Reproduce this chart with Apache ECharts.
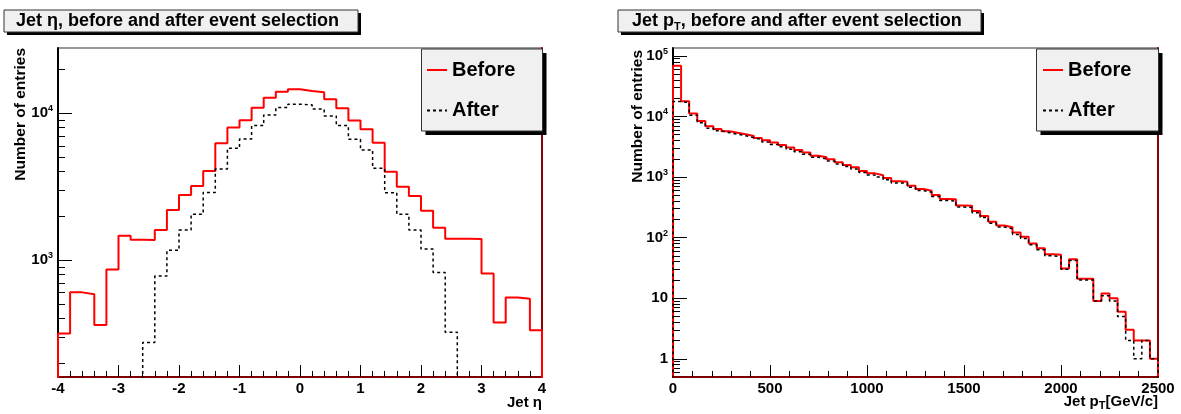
<!DOCTYPE html>
<html><head><meta charset="utf-8">
<script src="https://cdn.jsdelivr.net/npm/echarts@6/dist/echarts.min.js"></script>
<style>html,body{margin:0;padding:0;background:#fff}#c{width:1181px;height:414px}</style>
</head><body><div id="c"></div>
<script>
// ---------------- data ----------------
const etaRange = [-4, 4];
const etaBinWidth = 0.2;
const etaBefore = [316, 603, 586, 362, 863, 1465, 1375, 1370, 1600, 2190,
  2770, 3190, 4040, 6250, 7980, 8960, 10900, 12760, 14020, 14580,
  14190, 13900, 12450, 10810, 8910, 7780, 6300, 4000, 3160, 2730,
  2170, 1660, 1400, 1400, 1390, 811, 376, 557, 545, 333];
const etaAfter = [0, 0, 0, 0, 0, 0, 0, 275, 778, 1165,
  1600, 2050, 2890, 4170, 5770, 6680, 8240, 9730, 10920, 11520,
  11400, 10690, 9590, 8240, 6650, 5620, 4220, 2880, 2050, 1600,
  1189, 824, 323, 0, 0, 0, 0, 0, 0, 0];

const ptRange = [0, 2500];
const ptBinWidth = 2500 / 60;
const ptBefore = [69000, 17800, 11200, 8430, 6900, 6200, 5700, 5380, 5100, 4750,
  4400, 4050, 3700, 3380, 3080, 2800, 2550, 2250, 2130, 1960,
  1750, 1580, 1450, 1260, 1150, 1070, 960, 850, 840, 720,
  635, 596, 506, 435, 428, 340, 335, 275, 227, 183,
  158, 148, 121, 103, 80, 67, 53, 52, 31, 44,
  21, 21, 9, 12, 10, 6, 3, 2, 2, 1];
const ptAfter = [17600, 17000, 10500, 7900, 6400, 5800, 5400, 5100, 4800, 4450,
  4150, 3800, 3450, 3150, 2880, 2620, 2380, 2120, 2000, 1840,
  1640, 1490, 1360, 1190, 1080, 1000, 900, 800, 790, 680,
  600, 560, 478, 410, 402, 320, 315, 258, 214, 172,
  150, 140, 113, 97, 76, 63, 50, 49, 30, 42,
  20, 20, 9, 11, 9, 5, 2, 1, 2, 1];

const etaYRange = [160, 27800];
const ptYRange = [0.5, 135000];
const etaMajorTicks = [1000, 10000];
const etaMinorTicks = [200, 300, 400, 500, 600, 700, 800, 900, 2000, 3000, 4000, 5000, 6000, 7000, 8000, 9000, 20000];
const ptMajorTicks = [1, 10, 100, 1000, 10000, 100000];
const ptMinorTicks = [0.6, 0.7, 0.8, 0.9, 2, 3, 4, 5, 6, 7, 8, 9, 20, 30, 40, 50, 60, 70, 80, 90,
  200, 300, 400, 500, 600, 700, 800, 900, 2000, 3000, 4000, 5000, 6000, 7000, 8000, 9000,
  20000, 30000, 40000, 50000, 60000, 70000, 80000, 90000];
const seriesNames = ['Before', 'After'];

// ---------------- helpers ----------------
const FONT = '"Liberation Sans", Arial, Helvetica, sans-serif';
function histLine(lo, w, vals, floor) {
  const pts = [[lo, floor]];
  vals.forEach((v, i) => {
    const y = v > 0 ? v : floor;
    pts.push([lo + i * w, y], [lo + (i + 1) * w, y]);
  });
  pts.push([lo + vals.length * w, floor]);
  return pts;
}
function expLabel(v) {
  const e = Math.round(Math.log10(v));
  if (e === 0) return '{n|1}';
  if (e === 1) return '{n|10}';
  return '{n|10}{s|' + e + '}';
}
const labelRich = {
  n: { fontFamily: FONT, fontSize: 15, fontWeight: 'bold', color: '#000', lineHeight: 18 },
  s: { fontFamily: FONT, fontSize: 9, fontWeight: 'bold', color: '#000', verticalAlign: 'top', lineHeight: 9 }
};
const FLOOR = 1e-3;

function xAxisDef(g, min, max, interval) {
  return {
    type: 'value', gridIndex: g, min: min, max: max, interval: interval, position: 'bottom',
    axisLine: { show: true, onZero: false, lineStyle: { color: '#800000', width: 2 } },
    axisTick: { show: true, inside: true, length: 12, lineStyle: { color: '#000', width: 1 } },
    minorTick: { show: true, splitNumber: 5, length: 6, lineStyle: { color: '#000', width: 1 } },
    axisLabel: { show: true, margin: 4, fontFamily: FONT, fontSize: 15, fontWeight: 'bold', color: '#000',
      formatter: function (v) { return String(v); } },
    splitLine: { show: false }, minorSplitLine: { show: false }
  };
}
function yAxesDef(g, range, major, minor) {
  return [
    { type: 'log', logBase: 10, gridIndex: g, position: 'left', min: range[0], max: range[1],
      axisLine: { show: true, onZero: false, lineStyle: { color: '#000', width: 2 } },
      axisTick: { show: true, inside: true, length: 14, customValues: major, lineStyle: { color: '#000', width: 1 } },
      axisLabel: { show: true, customValues: major, formatter: expLabel, rich: labelRich, margin: 5 },
      splitLine: { show: false } },
    { type: 'log', logBase: 10, gridIndex: g, position: 'left', min: range[0], max: range[1],
      axisLine: { show: false, onZero: false },
      axisTick: { show: true, inside: true, length: 7, customValues: minor, lineStyle: { color: '#000', width: 1 } },
      axisLabel: { show: false },
      splitLine: { show: false } },
    { type: 'log', logBase: 10, gridIndex: g, position: 'right', min: range[0], max: range[1],
      axisLine: { show: true, onZero: false, lineStyle: { color: '#8b0000', width: 2 } },
      axisTick: { show: false }, axisLabel: { show: false }, splitLine: { show: false } }
  ];
}
function boxWithShadow(x, y, w, h, off) {
  return [
    { type: 'rect', z: 49, shape: { x: x + off, y: y + off, width: w, height: h }, style: { fill: '#000' } },
    { type: 'rect', z: 50, shape: { x: x, y: y, width: w, height: h }, style: { fill: '#f0f0f0', stroke: '#333', lineWidth: 1 } }
  ];
}
function legendDef(left) {
  return { left: left, top: 60, orient: 'vertical', itemWidth: 20, itemHeight: 20, itemGap: 20.5, padding: 0,
    selectedMode: false, z: 60, data: seriesNames,
    itemStyle: { opacity: 0 },
    textStyle: { fontFamily: FONT, fontSize: 20, fontWeight: 'bold', color: '#000', lineHeight: 20 } };
}

const option = {
  backgroundColor: '#fff',
  animation: false,
  title: [
    { text: 'Jet η, before and after event selection', left: 16, top: 10, padding: 0, z: 60,
      textStyle: { fontFamily: FONT, fontSize: 18, fontWeight: 'bold', color: '#000', lineHeight: 22 } },
    { text: '{a|Jet p}{t|T}{a|, before and after event selection}', left: 632, top: 10, padding: 0, z: 60,
      textStyle: { rich: {
        a: { fontFamily: FONT, fontSize: 18, fontWeight: 'bold', color: '#000', lineHeight: 22 },
        t: { fontFamily: FONT, fontSize: 11, fontWeight: 'bold', color: '#000', lineHeight: 11, verticalAlign: 'bottom' } } } }
  ],
  grid: [
    { left: 58, top: 48, width: 484, height: 329, show: true, borderColor: '#333', borderWidth: 1, backgroundColor: '#fff', outerBoundsMode: 'none', containLabel: false },
    { left: 673, top: 48, width: 485, height: 329, show: true, borderColor: '#333', borderWidth: 1, backgroundColor: '#fff', outerBoundsMode: 'none', containLabel: false }
  ],
  xAxis: [xAxisDef(0, etaRange[0], etaRange[1], 1), xAxisDef(1, ptRange[0], ptRange[1], 500)],
  yAxis: yAxesDef(0, etaYRange, etaMajorTicks, etaMinorTicks).concat(yAxesDef(1, ptYRange, ptMajorTicks, ptMinorTicks)),
  legend: [legendDef(426), legendDef(1042)],
  graphic: [].concat(
    boxWithShadow(4, 10, 354, 22, 3),
    boxWithShadow(618, 10, 363, 22, 3),
    boxWithShadow(421.5, 49, 121, 82, 4),
    boxWithShadow(1036.5, 49, 122, 82, 4),
    [
      { type: 'text', x: 21, y: 48, rotation: Math.PI / 2, z: 60,
        style: { text: 'Number of entries', font: 'bold 15.5px ' + FONT, fill: '#000', align: 'right', verticalAlign: 'middle', textAlign: 'right', textVerticalAlign: 'middle' } },
      { type: 'text', x: 638, y: 50, rotation: Math.PI / 2, z: 60,
        style: { text: 'Number of entries', font: 'bold 15.5px ' + FONT, fill: '#000', align: 'right', verticalAlign: 'middle', textAlign: 'right', textVerticalAlign: 'middle' } },
      { type: 'text', x: 542, y: 403, z: 60,
        style: { text: 'Jet η', font: 'bold 15px ' + FONT, fill: '#000', align: 'right', verticalAlign: 'middle', textAlign: 'right', textVerticalAlign: 'middle' } },
      { type: 'text', x: 1158, y: 402, z: 60,
        style: { text: '{a|Jet p}{t|T}{a|[GeV/c]}', align: 'right', verticalAlign: 'middle', textAlign: 'right', textVerticalAlign: 'middle',
          rich: {
            a: { fontFamily: FONT, fontSize: 15, fontWeight: 'bold', fill: '#000', color: '#000', lineHeight: 18 },
            t: { fontFamily: FONT, fontSize: 11, fontWeight: 'bold', fill: '#000', color: '#000', lineHeight: 11, verticalAlign: 'bottom' } } } }
    ]
  ),
  series: [
    { name: 'Before', type: 'line', xAxisIndex: 0, yAxisIndex: 0, data: histLine(etaRange[0], etaBinWidth, etaBefore, FLOOR),
      symbol: 'none', clip: true, z: 3, lineStyle: { color: '#ff0000', width: 2 }, itemStyle: { color: '#ff0000' } },
    { name: 'After', type: 'line', xAxisIndex: 0, yAxisIndex: 0, data: histLine(etaRange[0], etaBinWidth, etaAfter, FLOOR),
      symbol: 'none', clip: true, z: 4, lineStyle: { color: '#000', width: 1.5, type: [3, 3] }, itemStyle: { color: '#000' } },
    { name: 'Before', type: 'line', xAxisIndex: 1, yAxisIndex: 3, data: histLine(ptRange[0], ptBinWidth, ptBefore, FLOOR),
      symbol: 'none', clip: true, z: 3, lineStyle: { color: '#ff0000', width: 2 }, itemStyle: { color: '#ff0000' } },
    { name: 'After', type: 'line', xAxisIndex: 1, yAxisIndex: 3, data: histLine(ptRange[0], ptBinWidth, ptAfter, FLOOR),
      symbol: 'none', clip: true, z: 4, lineStyle: { color: '#000', width: 1.5, type: [3, 3] }, itemStyle: { color: '#000' } }
  ]
};
const chart = echarts.init(document.getElementById('c'), null, { renderer: 'canvas', width: 1181, height: 414 });
chart.setOption(option);
</script>
</body></html>
